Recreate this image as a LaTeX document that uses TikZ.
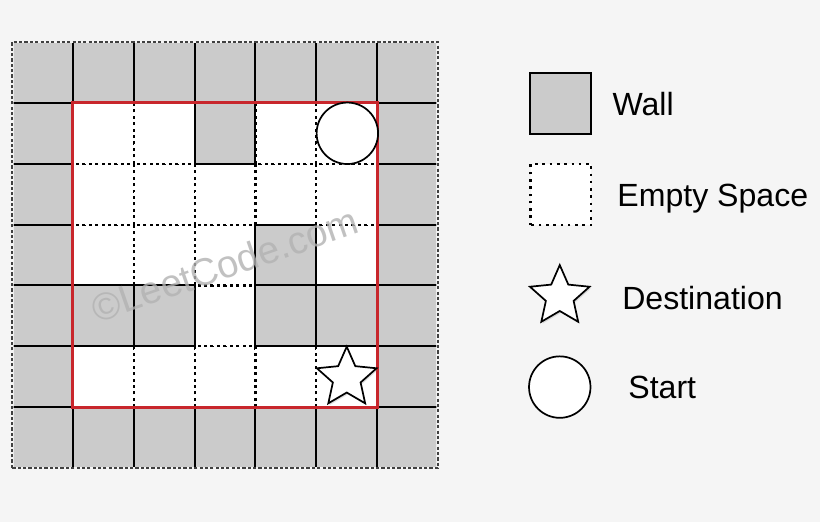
\documentclass[tikz,border=0pt]{standalone}
\usepackage{fontspec}
\setmainfont{Liberation Sans}
\usepackage{tikz}
\usetikzlibrary{shapes.geometric,shadows}
\definecolor{bgcol}{RGB}{245,245,245}
\definecolor{wallgray}{RGB}{203,203,203}
\definecolor{mazered}{RGB}{200,38,44}
\tikzset{
  wallcell/.style={draw=black, fill=wallgray, line width=0.9pt},
  emptycell/.style={draw=black, fill=white, line width=1pt, dash pattern=on 1.4pt off 1.6pt},
  startmark/.style={circle, draw=black, fill=white, line width=0.8pt, minimum size=1.01cm, inner sep=0pt},
  destmark/.style={star, star points=5, star point ratio=2.15, draw=black, fill=white, line width=0.8pt,
    minimum size=1.03cm, inner sep=0pt, drop shadow={opacity=0.25, shadow xshift=0.02cm, shadow yshift=-0.03cm}},
  legendtext/.style={anchor=base west, inner sep=0pt, font=\fontsize{15}{18}\selectfont}
}
\begin{document}
\begin{tikzpicture}
\fill[bgcol] (-0.197,-0.887) rectangle (13.276,7.69);
\useasboundingbox (-0.197,-0.887) rectangle (13.276,7.69);
\foreach \x in {1,...,5}
  \foreach \y in {1,...,5}
    \draw[emptycell] (\x,\y) rectangle ++(1,1);
\begin{scope}
\clip (0.03,0.03) rectangle (6.97,6.97);
\foreach \x in {0,...,6} {
  \draw[wallcell] (\x,0) rectangle ++(1,1);
  \draw[wallcell] (\x,6) rectangle ++(1,1);
  \draw[wallcell] (0,\x) rectangle ++(1,1);
  \draw[wallcell] (6,\x) rectangle ++(1,1);
}
\foreach \x/\y in {3/5, 4/3, 1/2, 2/2, 4/2, 5/2}
  \draw[wallcell] (\x,\y) rectangle ++(1,1);
\end{scope}
\draw[black!75, line width=0.8pt, dash pattern=on 1.5pt off 1pt] (0,0) rectangle (7,7);
\node[rotate=19, text=black!30, opacity=0.8, font=\fontsize{18}{20}\selectfont] (mark) at (3.5,3.34) {©LeetCode.com};
\draw[mazered, line width=1.5pt] (1,1) rectangle (6,6);
\node[startmark] (start) at (5.51,5.5) {};
\node[destmark] (dest) at (5.5,1.48) {};
\draw[wallcell] (8.51,5.49) rectangle (9.51,6.49);
\node[legendtext] (wall) at (9.86,5.80) {Wall};
\draw[emptycell, dash pattern=on 1.2pt off 2.2pt] (8.52,3.99) rectangle (9.52,4.99);
\node[legendtext] (empty) at (9.94,4.29) {Empty Space};
\node[destmark] (legdest) at (9.0,2.82) {};
\node[legendtext] (destination) at (10.02,2.61) {Destination};
\node[startmark] (legstart) at (9.0,1.33) {};
\node[legendtext] (starttext) at (10.12,1.145) {Start};
\end{tikzpicture}
\end{document}
